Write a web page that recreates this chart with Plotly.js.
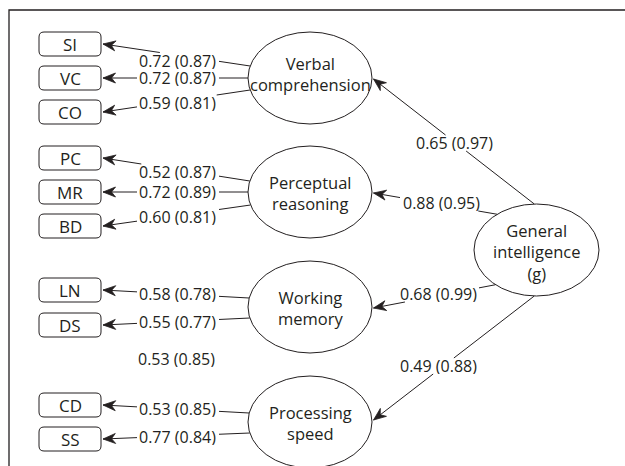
<!DOCTYPE html>
<html>
<head>
<meta charset="utf-8">
<script src="https://cdn.plot.ly/plotly-3.0.1.min.js"></script>
<style>html,body{margin:0;padding:0;background:#fff;}#chart{width:625px;height:466px;}</style>
</head>
<body>
<div id="chart"></div>
<script>
// ---- data ----
const indicators = ['SI', 'VC', 'CO', 'PC', 'MR', 'BD', 'LN', 'DS', 'CD', 'SS'];
const indicatorFactor = [0, 0, 0, 1, 1, 1, 2, 2, 3, 3];
const loadUnstd = [0.72, 0.72, 0.59, 0.52, 0.72, 0.60, 0.58, 0.55, 0.53, 0.77];
const loadStd   = [0.87, 0.87, 0.81, 0.87, 0.89, 0.81, 0.78, 0.77, 0.85, 0.84];
const factors = ['Verbal<br>comprehension', 'Perceptual<br>reasoning', 'Working<br>memory', 'Processing<br>speed'];
const generalFactor = 'General<br>intelligence<br>(g)';
const gUnstd = [0.65, 0.88, 0.68, 0.49];
const gStd   = [0.97, 0.95, 0.99, 0.88];
const strayUnstd = [0.53];
const strayStd   = [0.85];

// ---- layout (positions in pixels of the 625x466 canvas) ----
const W = 625, H = 466;
const boxX0 = 39, boxX1 = 101, boxH = 24, boxR = 5;
const boxCY = [44, 78, 112, 158, 192, 226, 290, 325, 405, 439];
const facC = [{x: 310, y: 78}, {x: 310, y: 192}, {x: 310, y: 307}, {x: 310, y: 422}];
const facRX = 62, facRY = 46;
const facTextDY = [-4, 1, 1, 1];
const gC = {x: 536.5, y: 250}, gRX = 62.5, gRY = 46;
const indStartDY = [-12, 0, 12, -11, 0, 13, -9, 11, -9, 11];
const indLabelX = 177;
const indLabelY = [60.5, 78, 103, 172, 192, 217, 294, 322, 409, 437];
const strayPos = [{x: 176, y: 359}];
const gStartAngle = [-92, -129, 131, 92];
const gLabelPos = [{x: 454, y: 143}, {x: 441, y: 203}, {x: 438, y: 294}, {x: 438, y: 366}];
const labelHalfW = 41, labelHalfH = 8;

const ink = '#231f20';
const fontFam = '"Open Sans", Lato, sans-serif';
const fmt = (a, b) => a.toFixed(2) + ' (' + b.toFixed(2) + ')';

const shapes = [];
const annotations = [];

function seg(x0, y0, x1, y1) {
  shapes.push({type: 'line', xref: 'x', yref: 'y', x0, y0, x1, y1, line: {color: ink, width: 1}});
}
// draw a line, leaving a gap where it passes through a label's rectangle
function lineWithGap(xs, ys, xt, yt, lx, ly) {
  const dx = xt - xs, dy = yt - ys;
  let t0 = 0, t1 = 1;
  const p = [-dx, dx, -dy, dy];
  const q = [xs - (lx - labelHalfW), (lx + labelHalfW) - xs, ys - (ly - labelHalfH), (ly + labelHalfH) - ys];
  let hit = true;
  for (let k = 0; k < 4; k++) {
    if (p[k] === 0) { if (q[k] < 0) { hit = false; break; } }
    else {
      const r = q[k] / p[k];
      if (p[k] < 0) t0 = Math.max(t0, r); else t1 = Math.min(t1, r);
    }
  }
  if (!hit || t0 >= t1) { seg(xs, ys, xt, yt); return; }
  seg(xs, ys, xs + dx * t0, ys + dy * t0);
  seg(xs + dx * t1, ys + dy * t1, xt, yt);
}
function arrowHead(xs, ys, xt, yt) {
  const dx = xt - xs, dy = yt - ys, L = Math.hypot(dx, dy);
  const ux = dx / L, uy = dy / L, px = -uy, py = ux;
  const len = 12.5, hw = 5, notch = 8.5;
  const bx = xt - ux * len, by = yt - uy * len;
  const nx = xt - ux * notch, ny = yt - uy * notch;
  const p = `M${xt},${yt} L${bx + px * hw},${by + py * hw} L${nx},${ny} L${bx - px * hw},${by - py * hw} Z`;
  shapes.push({type: 'path', xref: 'x', yref: 'y', path: p, fillcolor: ink, line: {color: ink, width: 0.8}});
}
function label(x, y, text, size, h) {
  const a = {x, y, xref: 'x', yref: 'y', text, showarrow: false, borderpad: 0,
    font: {family: fontFam, size: size || 14, color: ink}};
  if (h) a.height = h;
  annotations.push(a);
}

// frame
shapes.push({type: 'path', xref: 'x', yref: 'y', path: `M9,${H + 2} L9,10 L${W + 2},10`, line: {color: ink, width: 1.3}});

// indicator paths
indicators.forEach((name, i) => {
  const f = facC[indicatorFactor[i]];
  const dy = indStartDY[i];
  const xs = f.x - facRX * Math.sqrt(1 - (dy / facRY) ** 2), ys = f.y + dy;
  const xt = boxX1 + 2, yt = boxCY[i];
  lineWithGap(xs, ys, xt, yt, indLabelX + 1, indLabelY[i]);
  arrowHead(xs, ys, xt, yt);
});

// g paths
factors.forEach((name, k) => {
  const t = gStartAngle[k] * Math.PI / 180;
  const xs = gC.x + gRX * Math.cos(t), ys = gC.y + gRY * Math.sin(t);
  const xt = facC[k].x + facRX + 1.5, yt = facC[k].y + (k === 0 ? 1 : k === 3 ? -2 : 1);
  lineWithGap(xs, ys, xt, yt, gLabelPos[k].x, gLabelPos[k].y);
  arrowHead(xs, ys, xt, yt);
});

// boxes
indicators.forEach((name, i) => {
  const y0 = boxCY[i] - boxH / 2, y1 = boxCY[i] + boxH / 2, r = boxR;
  const p = `M${boxX0 + r},${y0} L${boxX1 - r},${y0} Q${boxX1},${y0} ${boxX1},${y0 + r} L${boxX1},${y1 - r} Q${boxX1},${y1} ${boxX1 - r},${y1} L${boxX0 + r},${y1} Q${boxX0},${y1} ${boxX0},${y1 - r} L${boxX0},${y0 + r} Q${boxX0},${y0} ${boxX0 + r},${y0} Z`;
  shapes.push({type: 'path', xref: 'x', yref: 'y', path: p, fillcolor: 'white', line: {color: ink, width: 1}});
  label((boxX0 + boxX1) / 2, boxCY[i] + 0.5, name, 17);
});

// ellipses
facC.forEach((c, k) => {
  shapes.push({type: 'circle', xref: 'x', yref: 'y', x0: c.x - facRX, x1: c.x + facRX, y0: c.y - facRY, y1: c.y + facRY,
    fillcolor: 'white', line: {color: ink, width: 1}});
});
shapes.push({type: 'circle', xref: 'x', yref: 'y', x0: gC.x - gRX, x1: gC.x + gRX, y0: gC.y - gRY, y1: gC.y + gRY,
  fillcolor: 'white', line: {color: ink, width: 1}});

// texts
factors.forEach((name, k) => {
  annotations.push({x: facC[k].x, y: facC[k].y + facTextDY[k], xref: 'x', yref: 'y', text: name, showarrow: false,
    font: {family: fontFam, size: 16.5, color: ink}});
});
annotations.push({x: gC.x, y: gC.y + 1.5, xref: 'x', yref: 'y', text: generalFactor, showarrow: false,
  font: {family: fontFam, size: 16.5, color: ink}});

indicators.forEach((name, i) => label(indLabelX, indLabelY[i], fmt(loadUnstd[i], loadStd[i]), 16, 16));
gUnstd.forEach((v, k) => label(gLabelPos[k].x, gLabelPos[k].y, fmt(v, gStd[k]), 16, 16));
strayUnstd.forEach((v, j) => label(strayPos[j].x, strayPos[j].y, fmt(v, strayStd[j]), 16, 16));

const layout = {
  width: W, height: H,
  margin: {l: 0, r: 0, t: 0, b: 0},
  paper_bgcolor: 'white', plot_bgcolor: 'white',
  xaxis: {range: [0, W], visible: false, fixedrange: true},
  yaxis: {range: [H, 0], visible: false, fixedrange: true},
  showlegend: false,
  shapes, annotations
};
Plotly.newPlot('chart', [], layout, {staticPlot: true, displayModeBar: false});
</script>
</body>
</html>
